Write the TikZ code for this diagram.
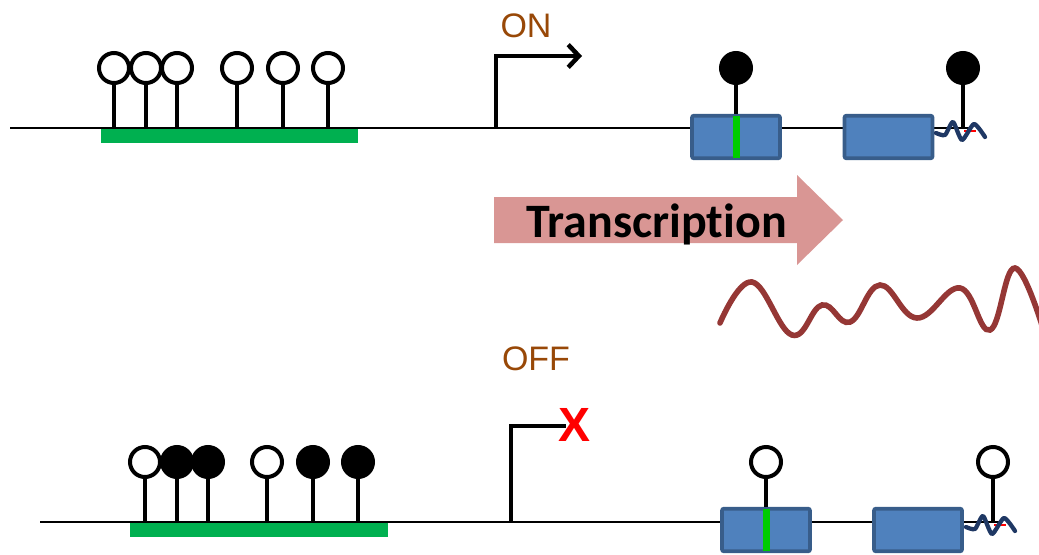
\documentclass[tikz,border=0pt]{standalone}
\usepackage{fontspec}
\setmainfont{Carlito}[Ligatures=NoCommon]
\newfontfamily\arialfont{Liberation Sans}
\usetikzlibrary{arrows.meta}
\definecolor{labelbrown}{HTML}{984807}
\definecolor{cpggreen}{HTML}{00B050}
\definecolor{exongreen}{HTML}{00CC00}
\definecolor{boxfill}{HTML}{4F81BD}
\definecolor{boxedge}{HTML}{385D8A}
\definecolor{arrowpink}{HTML}{D99694}
\definecolor{wavered}{HTML}{953735}
\definecolor{squignavy}{HTML}{1F3864}
\begin{document}
\begin{tikzpicture}[x=0.75pt,y=-0.75pt,
  dna/.style={line width=1.9pt},
  stem/.style={line width=2.5pt},
  openlp/.style={circle, draw=black, fill=white, line width=3pt, minimum size=22.5pt, inner sep=0pt},
  fulllp/.style={openlp, fill=black},
  cpg/.style={fill=cpggreen},
  exon/.style={rectangle, draw=boxedge, fill=boxfill, line width=2.8pt, rounded corners=1.5pt, minimum width=66pt, minimum height=32pt, inner sep=0pt},
  band/.style={rectangle, fill=exongreen, minimum width=5.5pt, minimum height=32pt, inner sep=0pt},
  lbl/.style={font=\arialfont\fontsize{25.5}{30}\selectfont, text=labelbrown, inner sep=0pt},
  squig/.style={draw=squignavy, line width=3.2pt, line join=round, line cap=round},
  redbit/.style={draw=red, line width=2pt},
  promoter/.style={line width=3.4pt},
  wave/.style={draw=wavered, line width=4.2pt, line cap=round}]
\useasboundingbox (0,0) rectangle (1039,554);

% ---------------- top row ----------------
\coordinate (topL) at (10,128);
\coordinate (topR) at (972,128);
\fill[cpg] (101,129) rectangle (358,143);
\draw[dna] (topL) -- (topR);
\foreach \x/\n/\s in {114/ta/openlp,146/tb/openlp,177/tc/openlp,237/td/openlp,283/te/openlp,328/tf/openlp}{
  \node[\s] (\n) at (\x,68) {};
  \draw[stem] (\n.south) -- (\n.south |- topL);
}
\coordinate (prom1) at (496,128);
\coordinate (tss1) at (582,56);
\draw[promoter, -{Straight Barb[length=8pt, width=17pt]}] (prom1) |- (tss1);
\node[lbl] (on) at (526,25.5) {ON};

\node[exon] (e1) at (736,137) {};
\node[band] (b1) at (736.5,137) {};
\node[exon] (e2) at (888.5,137) {};
\draw[redbit] (964,131) -- (976,131);
\draw[squig] plot[smooth, tension=0.4] coordinates {(936,133) (945,135) (953,122) (962,140) (974,124) (985,137)};
\node[fulllp] (m1) at (736,68) {};
\draw[stem] (m1.south) -- (e1.north);
\node[fulllp] (m2) at (963,68) {};
\draw[stem] (m2.south) -- (m2.south |- topL);

% ---------------- transcription ----------------
\fill[arrowpink] (494,197) -- (797,197) -- (797,175) -- (843,220) -- (797,265) -- (797,243) -- (494,243) -- cycle;
\node[font=\bfseries\fontsize{36}{40}\selectfont, inner sep=0pt, anchor=base] (tx) at (656.5,237) {Transcription};
\draw[wave] plot[smooth, tension=0.7] coordinates {(720,323) (752,282) (792,335) (822,305) (850,322) (880,285) (917,318) (960,288) (990,330) (1015,268) (1045,335)};

% ---------------- bottom row ----------------
\coordinate (botL) at (40,522);
\coordinate (botR) at (1002,522);
\fill[cpg] (130,523) rectangle (388,537);
\draw[dna] (botL) -- (botR);
\foreach \x/\n/\s in {145/ba/openlp,177/bb/fulllp,208/bc/fulllp,267/bd/openlp,313/be/fulllp,358/bf/fulllp}{
  \node[\s] (\n) at (\x,462) {};
  \draw[stem] (\n.south) -- (\n.south |- botL);
}
\coordinate (prom2) at (511,522);
\coordinate (tss2) at (566,426);
\draw[line width=2.6pt] (prom2) |- (tss2);
\node[font=\arialfont\bfseries\fontsize{36}{40}\selectfont, text=red, inner sep=0pt] (xmark) at (575,424.5) {X};
\node[lbl] (off) at (536,358.5) {OFF};

\node[exon] (e3) at (766,530) {};
\node[band] (b3) at (766.5,530) {};
\node[exon] (e4) at (918,530) {};
\draw[redbit] (994,525) -- (1006,525);
\draw[squig] plot[smooth, tension=0.4] coordinates {(966,527) (975,529) (983,516) (992,534) (1004,518) (1015,531)};
\node[openlp] (m3) at (766,462) {};
\draw[stem] (m3.south) -- (e3.north);
\node[openlp] (m4) at (993,462) {};
\draw[stem] (m4.south) -- (m4.south |- botL);
\end{tikzpicture}
\end{document}
